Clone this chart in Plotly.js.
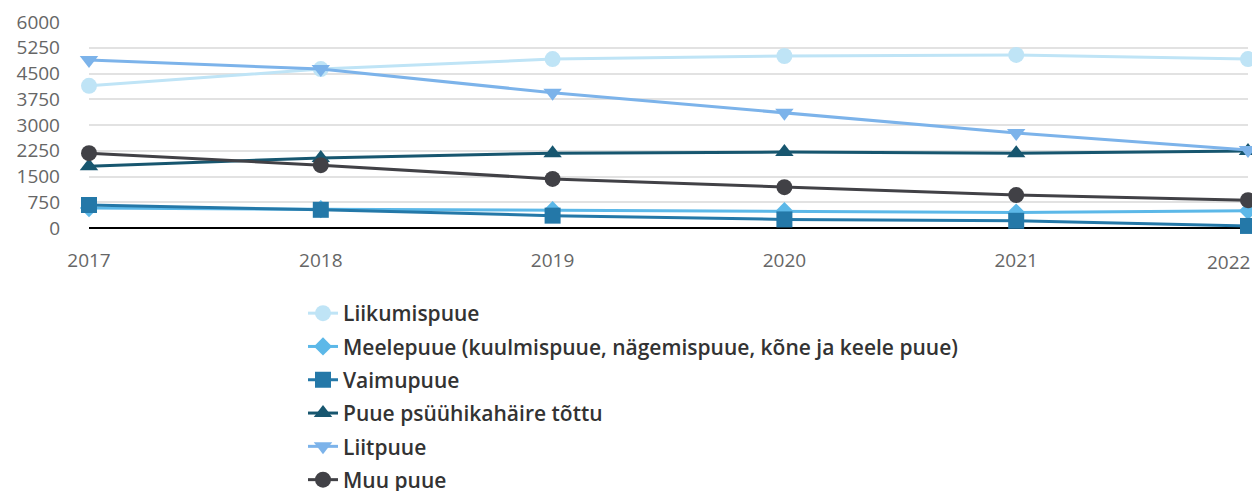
<!DOCTYPE html>
<html>
<head>
<meta charset="utf-8">
<script src="https://cdn.plot.ly/plotly-3.0.1.min.js"></script>
<style>
  html, body { margin: 0; padding: 0; background: #fff; overflow: hidden; }
  #wrap { width: 1252px; height: 491px; overflow: hidden; }
</style>
</head>
<body>
<div id="wrap"><div id="chart"></div></div>
<script>
const years = [2017, 2018, 2019, 2020, 2021, 2022];
const yTicks = [0, 750, 1500, 2250, 3000, 3750, 4500, 5250, 6000];

const liikumispuue = [4140, 4630, 4920, 5010, 5040, 4920];
const meelepuue = [580, 550, 520, 490, 450, 500];
const vaimupuue = [670, 530, 360, 250, 210, 60];
const psyyhika = [1800, 2040, 2180, 2210, 2180, 2240];
const liitpuue = [4890, 4630, 3940, 3360, 2770, 2270];
const muuPuue = [2180, 1830, 1430, 1190, 960, 810];

const series = [
  {name: 'Liikumispuue', y: liikumispuue, color: '#bfe4f6', symbol: 'circle', size: 16},
  {name: 'Meelepuue (kuulmispuue, nägemispuue, kõne ja keele puue)', y: meelepuue, color: '#5cb8e8', symbol: 'diamond', size: 14},
  {name: 'Vaimupuue', y: vaimupuue, color: '#2478a8', symbol: 'square', size: 16},
  {name: 'Puue psüühikahäire tõttu', y: psyyhika, color: '#17566f', symbol: 'triangle-up', size: 16},
  {name: 'Liitpuue', y: liitpuue, color: '#7cb3ea', symbol: 'triangle-down', size: 16},
  {name: 'Muu puue', y: muuPuue, color: '#414146', symbol: 'circle', size: 16}
];

const data = series.map((s, i) => ({
  x: years, y: s.y, name: s.name, type: 'scatter', mode: 'lines+markers',
  legendgroup: 'g' + i,
  line: {color: s.color, width: 3},
  marker: {color: s.color, symbol: s.symbol, size: s.size},
  cliponaxis: false
}));

const tickFont = {family: 'Open Sans, sans-serif', size: 19, color: '#666'};

// the figure is drawn a little taller than the 491px view so the last legend
// row runs off the bottom like in the original; plot area spans y 22..228
const W = 1252, H = 525, mL = 89, mR = 4, mT = 22, mB = 0;
const paperH = H - mT - mB, paperW = W - mL - mR;

const layout = {
  width: W, height: H,
  margin: {l: mL, r: mR, t: mT, b: mB},
  paper_bgcolor: '#fff', plot_bgcolor: '#fff',
  font: {family: 'Open Sans, sans-serif', color: '#666'},
  xaxis: {
    range: [2017, 2022], tickvals: years.slice(0, -1), ticks: '', showgrid: false,
    zeroline: false, showline: false, automargin: false,
    tickfont: tickFont, ticklabelstandoff: 19
  },
  yaxis: {
    range: [0, 6000], tickvals: yTicks, ticks: '', automargin: false,
    domain: [(H - 228) / paperH, 1],
    gridcolor: '#e2e2e2', gridwidth: 1.5,
    zeroline: true, zerolinecolor: '#000', zerolinewidth: 2,
    tickfont: tickFont, ticklabelstandoff: 28
  },
  annotations: [{
    x: years[years.length - 1], y: 0, xref: 'x', yref: 'y',
    text: String(years[years.length - 1]), showarrow: false,
    xanchor: 'right', yanchor: 'top', xshift: 4, yshift: -19,
    font: tickFont
  }],
  showlegend: true,
  legend: {
    x: (303 - mL) / paperW, y: (H - 293) / paperH, xanchor: 'left', yanchor: 'top',
    orientation: 'v', tracegroupgap: 3, itemwidth: 30,
    font: {family: 'Open Sans, sans-serif', size: 21, color: '#333', weight: 600}
  }
};

Plotly.newPlot('chart', data, layout, {displayModeBar: false});
</script>
</body>
</html>
